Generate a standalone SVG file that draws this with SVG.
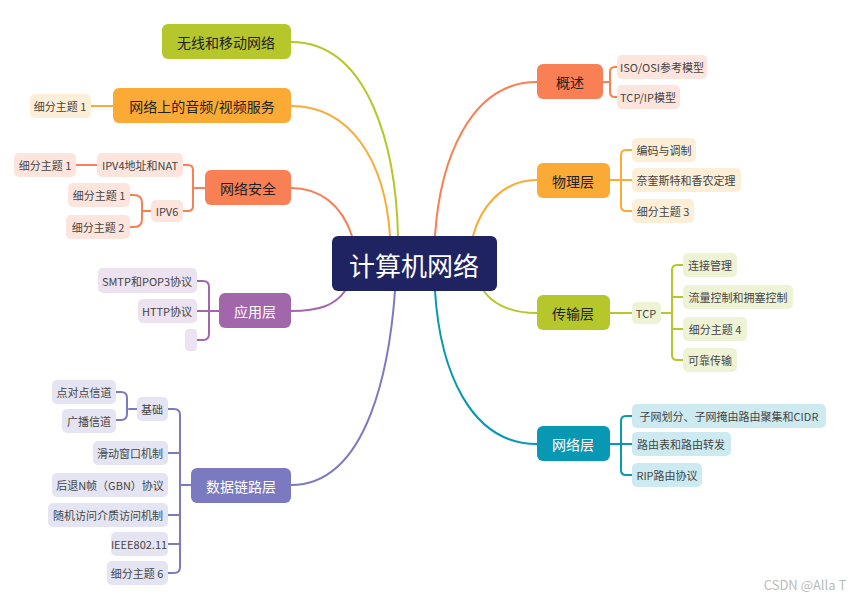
<svg xmlns="http://www.w3.org/2000/svg" width="861" height="600" viewBox="0 0 861 600">
<style>
text{font-family:"Noto Sans CJK SC","Noto Sans",sans-serif;dominant-baseline:central;text-anchor:middle}
.m{font-size:14px;fill:#222}
.w{fill:#fff}
.s{font-size:11px;fill:#444}
.c path{fill:none;stroke-width:2;stroke-linecap:round}
</style>
<rect width="861" height="600" fill="#fff"/>
<g class="c" id="connectors">
<path d="M291,42 C370,42 396,150 398,236" stroke="#b5c72a"/>
<path d="M291,106 C350,106 385,160 390,236" stroke="#fbab35"/>
<path d="M291,188 C320,188 342,205 352,236" stroke="#f97f55"/>
<path d="M291,311 C320,311 335,305 345,291" stroke="#a267ab"/>
<path d="M291,485 C370,485 390,360 395,291" stroke="#7b79bf"/>
<path d="M537,82 C470,82 440,160 435,236" stroke="#f97f55"/>
<path d="M537,180 C500,180 480,210 473,236" stroke="#fbab35"/>
<path d="M537,313 C505,313 490,300 484,291" stroke="#b5c72a"/>
<path d="M537,444 C470,444 440,370 435,291" stroke="#0898b4"/>
<!-- left subs -->
<path d="M113,106 H91" stroke="#fbab35"/>
<path d="M205,188 H193 M183,165 H188 Q193,165 193,170 V206 Q193,211 188,211 H183 M97,165 H76" stroke="#f97f55"/>
<path d="M151,211 H142 M130,195 H134 Q142,195 142,203 V219 Q142,227 134,227 H130" stroke="#f97f55"/>
<path d="M219,311 H209 M197,281 H203 Q209,281 209,287 V334 Q209,340 203,340 H197 M197,311 H209" stroke="#a267ab"/>
<path d="M191,485 H180 M168,409 H174 Q180,409 180,415 V567 Q180,573 174,573 H168 M168,453 H180 M168,515 H180 M168,544 H180" stroke="#7b79bf"/>
<path d="M137,409 H129 M116,392 H121 Q127,392 127,398 V414 Q127,420 121,420 H116" stroke="#7b79bf"/>
<!-- right subs -->
<path d="M603,82 H610 M617,67 H615 Q610,67 610,72 V92 Q610,97 615,97 H617" stroke="#f97f55"/>
<path d="M610,180 H632 M632,150 H626 Q621,150 621,155 V206 Q621,211 626,211 H632" stroke="#fbab35"/>
<path d="M610,313 H632 M661,313 H672 M683,265 H677 Q672,265 672,270 V355 Q672,360 677,360 H683 M672,297 H683 M672,329 H683" stroke="#b5c72a"/>
<path d="M610,444 H621 M632,416 H626 Q621,416 621,421 V470 Q621,475 626,475 H632 M621,444 H632" stroke="#0898b4"/>
</g>
<g id="center"><rect x="332" y="236" width="165" height="55" rx="6" fill="#1f2361"/><text x="414" y="264" font-size="26" class="w">计算机网络</text></g>
<g id="n-wireless"><rect x="162" y="24" width="129" height="35" rx="6" fill="#b5c72a"/><text x="226" y="42" class="m">无线和移动网络</text></g>
<g id="n-av"><rect x="113" y="88" width="178" height="35" rx="6" fill="#fbab35"/><text x="202" y="106" class="m">网络上的音频/视频服务</text></g>
<g id="n-av1"><rect x="30" y="94" width="61" height="24" rx="5" fill="#fdeed8"/><text x="60" y="106" class="s">细分主题 1</text></g>
<g id="n-sec"><rect x="205" y="170" width="86" height="35" rx="6" fill="#f97f55"/><text x="248" y="188" class="m">网络安全</text></g>
<g id="n-ipv4"><rect x="97" y="153" width="86" height="24" rx="5" fill="#fde4dc"/><text x="140" y="165" class="s">IPV4地址和NAT</text></g>
<g id="n-ipv4a"><rect x="14" y="153" width="62" height="24" rx="5" fill="#fde4dc"/><text x="45" y="165" class="s">细分主题 1</text></g>
<g id="n-ipv6"><rect x="151" y="200" width="32" height="22" rx="5" fill="#fde4dc"/><text x="167" y="211" class="s">IPV6</text></g>
<g id="n-ipv6a"><rect x="68" y="183" width="62" height="24" rx="5" fill="#fde4dc"/><text x="99" y="195" class="s">细分主题 1</text></g>
<g id="n-ipv6b"><rect x="66" y="215" width="64" height="24" rx="5" fill="#fde4dc"/><text x="98" y="227" class="s">细分主题 2</text></g>
<g id="n-app"><rect x="219" y="293" width="72" height="35" rx="6" fill="#a267ab"/><text x="255" y="311" class="m w">应用层</text></g>
<g id="n-smtp"><rect x="98" y="268" width="99" height="25" rx="5" fill="#ede2ef"/><text x="147" y="281" class="s">SMTP和POP3协议</text></g>
<g id="n-http"><rect x="138" y="299" width="59" height="24" rx="5" fill="#ede2ef"/><text x="167" y="311" class="s">HTTP协议</text></g>
<g id="n-empty"><rect x="185" y="329" width="12" height="22" rx="4" fill="#ede2ef"/></g>
<g id="n-dl"><rect x="191" y="468" width="100" height="35" rx="6" fill="#7b79bf"/><text x="241" y="486" class="m w">数据链路层</text></g>
<g id="n-base"><rect x="137" y="397" width="31" height="24" rx="5" fill="#e5e4f2"/><text x="152" y="409" class="s">基础</text></g>
<g id="n-p2p"><rect x="52" y="380" width="64" height="24" rx="5" fill="#e5e4f2"/><text x="84" y="392" class="s">点对点信道</text></g>
<g id="n-bc"><rect x="62" y="409" width="54" height="24" rx="5" fill="#e5e4f2"/><text x="89" y="421" class="s">广播信道</text></g>
<g id="n-sw"><rect x="93" y="441" width="75" height="24" rx="5" fill="#e5e4f2"/><text x="130" y="453" class="s">滑动窗口机制</text></g>
<g id="n-gbn"><rect x="52" y="473" width="116" height="24" rx="5" fill="#e5e4f2"/><text x="110" y="485" class="s">后退N帧（GBN）协议</text></g>
<g id="n-ra"><rect x="48" y="503" width="120" height="24" rx="5" fill="#e5e4f2"/><text x="108" y="515" class="s">随机访问介质访问机制</text></g>
<g id="n-ieee"><rect x="111" y="532" width="57" height="24" rx="5" fill="#e5e4f2"/><text x="139" y="544" class="s">IEEE802.11</text></g>
<g id="n-dl6"><rect x="107" y="561" width="61" height="24" rx="5" fill="#e5e4f2"/><text x="137" y="573" class="s">细分主题 6</text></g>
<g id="n-over"><rect x="537" y="64" width="66" height="35" rx="6" fill="#f97f55"/><text x="570" y="82" class="m">概述</text></g>
<g id="n-iso"><rect x="617" y="55" width="90" height="24" rx="5" fill="#fde4dc"/><text x="662" y="67" class="s">ISO/OSI参考模型</text></g>
<g id="n-tcpip"><rect x="617" y="85" width="63" height="24" rx="5" fill="#fde4dc"/><text x="648" y="97" class="s">TCP/IP模型</text></g>
<g id="n-phy"><rect x="537" y="163" width="73" height="35" rx="6" fill="#fbab35"/><text x="573" y="181" class="m">物理层</text></g>
<g id="n-enc"><rect x="632" y="138" width="64" height="24" rx="5" fill="#fdeed8"/><text x="664" y="150" class="s">编码与调制</text></g>
<g id="n-nyq"><rect x="632" y="168" width="109" height="24" rx="5" fill="#fdeed8"/><text x="686" y="180" class="s">奈奎斯特和香农定理</text></g>
<g id="n-phy3"><rect x="632" y="199" width="62" height="24" rx="5" fill="#fdeed8"/><text x="663" y="211" class="s">细分主题 3</text></g>
<g id="n-tr"><rect x="537" y="295" width="73" height="35" rx="6" fill="#b5c72a"/><text x="573" y="313" class="m">传输层</text></g>
<g id="n-tcp"><rect x="632" y="302" width="29" height="22" rx="5" fill="#eff3d6"/><text x="646" y="313" class="s">TCP</text></g>
<g id="n-conn"><rect x="683" y="253" width="54" height="24" rx="5" fill="#eff3d6"/><text x="710" y="265" class="s">连接管理</text></g>
<g id="n-flow"><rect x="683" y="285" width="110" height="24" rx="5" fill="#eff3d6"/><text x="738" y="297" class="s">流量控制和拥塞控制</text></g>
<g id="n-tr4"><rect x="683" y="317" width="64" height="24" rx="5" fill="#eff3d6"/><text x="715" y="329" class="s">细分主题 4</text></g>
<g id="n-rel"><rect x="683" y="348" width="54" height="24" rx="5" fill="#eff3d6"/><text x="710" y="360" class="s">可靠传输</text></g>
<g id="n-net"><rect x="537" y="426" width="73" height="35" rx="6" fill="#0898b4"/><text x="573" y="444" class="m w">网络层</text></g>
<g id="n-sub"><rect x="632" y="404" width="194" height="24" rx="5" fill="#cdeaf1"/><text x="729" y="416" class="s">子网划分、子网掩由路由聚集和CIDR</text></g>
<g id="n-rt"><rect x="632" y="432" width="99" height="24" rx="5" fill="#cdeaf1"/><text x="681" y="444" class="s">路由表和路由转发</text></g>
<g id="n-rip"><rect x="632" y="463" width="70" height="24" rx="5" fill="#cdeaf1"/><text x="667" y="475" class="s">RIP路由协议</text></g>
<text x="805" y="584" font-size="13" fill="#bbb">CSDN @Alla T</text>
</svg>
